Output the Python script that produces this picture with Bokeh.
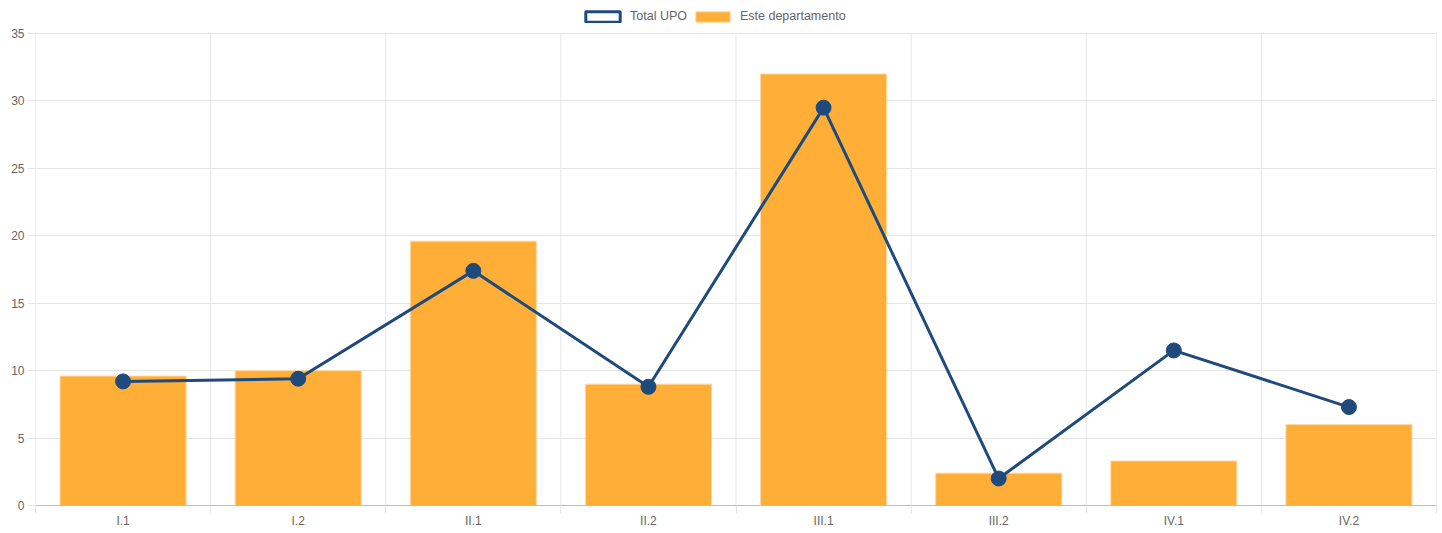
import numpy as np
from bokeh.plotting import figure
from bokeh.models import FixedTicker, ColumnDataSource, Legend, LegendItem, Range1d
from bokeh.embed import file_html
from bokeh.resources import INLINE

categories = ["I.1", "I.2", "II.1", "II.2", "III.1", "III.2", "IV.1", "IV.2"]
dept_values = [9.6, 10.0, 19.6, 9.0, 32.0, 2.4, 3.3, 6.0]
upo_values = [9.2, 9.4, 17.4, 8.8, 29.5, 2.0, 11.5, 7.3]
y_ticks = [0, 5, 10, 15, 20, 25, 30, 35]

n = len(categories)
xs = [i + 0.5 for i in range(n)]
bounds = list(range(n + 1))
y_max = y_ticks[-1]
src = ColumnDataSource(dict(x=xs, cat=categories, dept=dept_values, upo=upo_values))

FONT = "Liberation Sans"
GRID = "#e6e6e6"
TXT = "#666666"

# frame spans the full height above the x axis; the top 33 px hold the legend
FRAME_H = 505
PLOT_H = 472
p = figure(width=1442, height=533, output_backend="svg", toolbar_location=None,
           x_range=Range1d(0, n), y_range=Range1d(0, y_max * FRAME_H / PLOT_H),
           min_border_left=35, min_border_right=6, min_border_top=0, min_border_bottom=28)
p.outline_line_color = None
p.background_fill_color = "white"
p.border_fill_color = "white"

# vertical grid lines between categories (limited to the value range)
p.segment(x0=bounds, y0=[0] * len(bounds), x1=bounds, y1=[y_max] * len(bounds),
          line_color=GRID, line_width=1)

bars = p.vbar(x="x", top="dept", width=0.72, source=src,
              fill_color="#FFAE38", line_color="#FFD9A3", line_width=1)
line = p.line(x="x", y="upo", source=src, line_color="#1F4A7C", line_width=3)
pts = p.scatter(x="x", y="upo", source=src, size=15, fill_color="#1F4A7C",
                line_color="#1F4A7C")
# legend-only swatch (no visible data)
dummy = p.vbar(x=np.array([np.nan]), top=np.array([np.nan]), width=0.5, fill_color="white",
               line_color="#1F4A7C", line_width=3)

# x axis
p.xaxis.ticker = FixedTicker(ticks=xs, minor_ticks=bounds)
p.xaxis.major_label_overrides = {x: c for x, c in zip(xs, categories)}
p.xaxis.major_tick_out = 0
p.xaxis.major_tick_in = 0
p.xaxis.minor_tick_out = 8
p.xaxis.minor_tick_in = 0
p.xaxis.minor_tick_line_color = GRID
p.xaxis.axis_line_color = "#bdbdbd"
p.xaxis.major_label_standoff = 0
p.xaxis.major_label_text_font = FONT
p.xaxis.major_label_text_font_size = "12px"
p.xaxis.major_label_text_color = TXT
p.xgrid.grid_line_color = None

# y axis
p.yaxis.ticker = FixedTicker(ticks=y_ticks)
p.yaxis.major_tick_out = 8
p.yaxis.major_tick_in = 0
p.yaxis.major_tick_line_color = GRID
p.yaxis.minor_tick_line_color = None
p.yaxis.axis_line_color = None
p.yaxis.major_label_standoff = 3
p.yaxis.major_label_text_font = FONT
p.yaxis.major_label_text_font_size = "12px"
p.yaxis.major_label_text_color = TXT
p.ygrid.grid_line_color = GRID

legend = Legend(items=[LegendItem(label="Total UPO", renderers=[dummy]),
                       LegendItem(label="Este departamento", renderers=[bars])],
                orientation="horizontal", location=(546, 482),
                glyph_width=43, glyph_height=13, label_standoff=6, spacing=4,
                padding=0, margin=0, border_line_color=None, background_fill_alpha=0,
                label_text_font=FONT, label_text_font_size="12.5px", label_text_color=TXT)
p.add_layout(legend, "center")

open("out.html", "w").write(file_html(p, INLINE))
